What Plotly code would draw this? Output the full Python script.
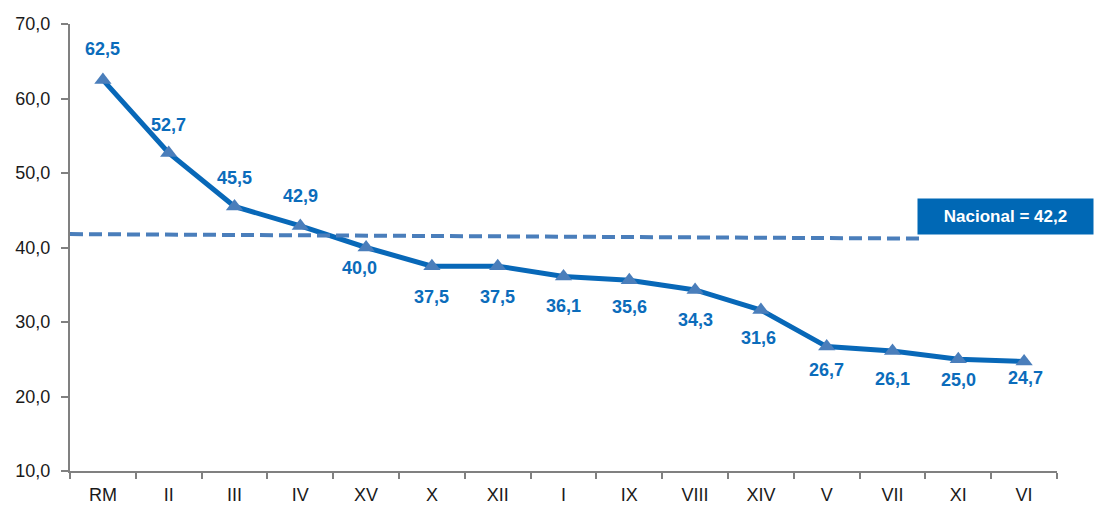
import plotly.graph_objects as go

regions = ["RM", "II", "III", "IV", "XV", "X", "XII", "I", "IX", "VIII", "XIV", "V", "VII", "XI", "VI"]
values = [62.5, 52.7, 45.5, 42.9, 40.0, 37.5, 37.5, 36.1, 35.6, 34.3, 31.6, 26.7, 26.1, 25.0, 24.7]
nacional = 42.2
nacional_line = [41.8, 41.2]  # drawn reference line ends as seen in the picture

# label offsets in pixels (style, not data)
label_dy = [31, 28, 29, 30, -20, -31, -31, -29, -27, -30, -28, -23, -28, -21, -17]
label_dx = [0, 0, 0, 0, -7, 0, 0, 0, 0, 0, -2, 0, 0, 0, 1]

labels = [f"{v:.1f}".replace(".", ",") for v in values]

fig = go.Figure()
fig.add_trace(go.Scatter(
    x=regions, y=values, mode="lines+markers",
    line=dict(color="#0868B8", width=5),
    marker=dict(symbol="triangle-up", size=15, color="#4A7EBB"),
    cliponaxis=False, showlegend=False,
))

for r, v, t, dy, dx in zip(regions, values, labels, label_dy, label_dx):
    fig.add_annotation(x=r, y=v, text=f"<b>{t}</b>", showarrow=False,
                       xanchor="center", yanchor="middle", yshift=dy, xshift=dx,
                       font=dict(family="Liberation Sans", size=18, color="#0B6CBB"))

fig.add_shape(type="line", xref="paper", yref="y",
              x0=0.0, x1=0.861, y0=nacional_line[0], y1=nacional_line[1],
              line=dict(color="#4A7EBB", width=4, dash="13px,6px"))

fig.add_annotation(xref="paper", yref="y", x=1.0375, y=nacional + 2.0,
                   xanchor="right", yanchor="middle",
                   text="<b>Nacional = " + f"{nacional:.1f}".replace(".", ",") + "</b>",
                   showarrow=False, bgcolor="#0068B5", borderpad=4,
                   width=167, height=27,
                   font=dict(family="Liberation Sans", size=17, color="white"))

fig.update_layout(
    width=1094, height=512,
    margin=dict(l=70, r=37, t=24, b=41),
    paper_bgcolor="white", plot_bgcolor="white",
    separators=",.",
    font=dict(family="Liberation Sans", size=18, color="#1a1a1a"),
    xaxis=dict(range=[-0.5, len(regions) - 0.5], automargin=False,
               showline=True, linecolor="#808080", linewidth=2,
               ticks="outside", tickcolor="#808080", ticklen=6, tickwidth=2,
               tickson="boundaries", showgrid=False, zeroline=False,
               ticklabelstandoff=6, tickfont=dict(size=18)),
    yaxis=dict(range=[10, 70], dtick=10, tickformat=".1f", automargin=False,
               showline=True, linecolor="#808080", linewidth=2,
               ticks="outside", tickcolor="#808080", ticklen=7, tickwidth=2,
               showgrid=False, zeroline=False,
               ticklabelstandoff=7, tickfont=dict(size=18)),
)

fig.write_html("out.html", config={"displayModeBar": False},
               post_script="document.body.style.margin='0px';")
